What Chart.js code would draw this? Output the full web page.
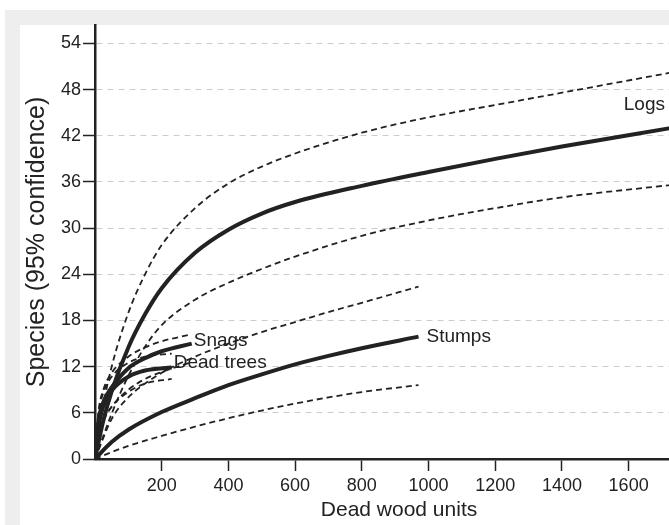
<!DOCTYPE html>
<html>
<head>
<meta charset="utf-8">
<script src="https://cdn.jsdelivr.net/npm/chart.js@4.4.1/dist/chart.umd.min.js"></script>
<style>
  html, body { margin: 0; padding: 0; background: #fff; overflow: hidden; }
  #wrap { width: 669px; height: 525px; overflow: hidden; position: relative; }
  #chart { position: absolute; left: 0; top: 0; }
</style>
</head>
<body>
<div id="wrap"><canvas id="chart" width="703" height="525"></canvas></div>
<script>
// rarefaction curves (x = dead wood units, y = species)
const logsX     = [0, 25, 50, 100, 150, 200, 300, 400, 500, 600, 800, 1000, 1200, 1400, 1725];
const logsMean  = [0, 5.0, 8.8, 14.5, 18.8, 22.2, 26.8, 29.8, 31.9, 33.4, 35.5, 37.3, 39.0, 40.6, 43.0];
const logsUpper = [0, 7.0, 12.0, 19.0, 24.0, 27.8, 32.6, 35.8, 38.0, 39.7, 42.4, 44.4, 46.0, 47.6, 50.2];
const logsLower = [0, 3.0, 5.9, 10.8, 14.6, 17.4, 20.7, 22.9, 24.7, 26.3, 29.0, 31.0, 32.6, 34.0, 35.6];

const stumpsX     = [0, 50, 100, 200, 300, 400, 500, 600, 700, 800, 970];
const stumpsMean  = [0, 2.2, 3.8, 6.1, 7.9, 9.6, 11.0, 12.3, 13.4, 14.4, 15.9];
const stumpsUpper = [0, 5.2, 8.0, 11.2, 13.3, 15.0, 16.5, 17.8, 19.1, 20.3, 22.4];
const stumpsLower = [0, 0.9, 1.7, 3.0, 4.2, 5.3, 6.3, 7.2, 8.0, 8.7, 9.6];

const snagsX     = [0, 10, 25, 50, 100, 150, 200, 290];
const snagsMean  = [0, 4.8, 7.4, 9.3, 11.8, 13.1, 14.0, 15.0];
const snagsUpper = [0, 6.0, 9.0, 11.2, 13.3, 14.5, 15.3, 16.2];
const snagsLower = [0, 3.0, 5.0, 6.8, 9.0, 10.4, 11.3, 12.6];

const deadX     = [0, 10, 25, 50, 100, 150, 230];
const deadMean  = [0, 4.2, 6.9, 8.9, 10.7, 11.5, 11.9];
const deadUpper = [0, 5.6, 8.6, 10.7, 12.5, 13.3, 13.7];
const deadLower = [0, 2.8, 4.9, 6.8, 8.7, 9.8, 10.4];

const yTickValues = [0, 6, 12, 18, 24, 30, 36, 42, 48, 54];
const xTickValues = [200, 400, 600, 800, 1000, 1200, 1400, 1600];

const FONT = "'Liberation Sans', Arial, sans-serif";
const INK = '#222';
// the canvas is a bit wider than the window: the plot runs on past the right edge
const VISIBLE_W = 669;

const curve = (xs, ys, dashed) => ({
    data: xs.map((x, i) => ({ x: x, y: ys[i] })),
    borderColor: INK,
    borderWidth: dashed ? 1.8 : 4,
    borderDash: dashed ? [6, 4] : [],
    pointRadius: 0,
    fill: false,
    cubicInterpolationMode: 'monotone'
});

// grey frame behind the white panel
const backgroundPlugin = {
    id: 'frame',
    beforeDraw(chart) {
        const ctx = chart.ctx;
        ctx.save();
        ctx.fillStyle = '#ffffff';
        ctx.fillRect(0, 0, chart.width, chart.height);
        ctx.fillStyle = '#eeeeee';
        ctx.fillRect(5, 10, chart.width - 5, chart.height - 10);
        ctx.fillStyle = '#ffffff';
        ctx.fillRect(20, 25, chart.width - 20, chart.height - 25);
        ctx.restore();
    }
};

// names written next to the end of each mean curve
const labelPlugin = {
    id: 'curveLabels',
    afterDatasetsDraw(chart) {
        const { ctx, scales: { x, y } } = chart;
        const items = [
            { text: 'Logs', xs: logsX, ys: logsMean, dx: -4, dy: -23, align: 'right' },
            { text: 'Stumps', xs: stumpsX, ys: stumpsMean, dx: 8, dy: 0, align: 'left' },
            { text: 'Snags', xs: snagsX, ys: snagsMean, dx: 2, dy: -3, align: 'left' },
            { text: 'Dead trees', xs: deadX, ys: deadMean, dx: 2, dy: -5, align: 'left' }
        ];
        ctx.save();
        ctx.font = '19px ' + FONT;
        ctx.fillStyle = INK;
        ctx.textBaseline = 'middle';
        items.forEach(it => {
            const last = it.xs.length - 1;
            const px = Math.min(x.getPixelForValue(it.xs[last]), VISIBLE_W);
            const py = y.getPixelForValue(it.ys[last]);
            ctx.textAlign = it.align;
            ctx.fillText(it.text, px + it.dx, py + it.dy);
        });
        ctx.restore();
    }
};

new Chart(document.getElementById('chart'), {
    type: 'line',
    data: {
        datasets: [
            curve(logsX, logsUpper, true),
            curve(logsX, logsLower, true),
            curve(stumpsX, stumpsUpper, true),
            curve(stumpsX, stumpsLower, true),
            curve(snagsX, snagsUpper, true),
            curve(snagsX, snagsLower, true),
            curve(deadX, deadUpper, true),
            curve(deadX, deadLower, true),
            curve(logsX, logsMean, false),
            curve(stumpsX, stumpsMean, false),
            curve(snagsX, snagsMean, false),
            curve(deadX, deadMean, false)
        ]
    },
    options: {
        responsive: false,
        animation: false,
        devicePixelRatio: 1,
        layout: { padding: { top: 25, left: 0, right: 0, bottom: 0 } },
        plugins: {
            legend: { display: false },
            tooltip: { enabled: false }
        },
        scales: {
            x: {
                type: 'linear',
                min: 0,
                max: 1823,
                afterBuildTicks: s => { s.ticks = xTickValues.map(v => ({ value: v })); },
                afterFit: s => { s.height = 66; },
                ticks: {
                    color: INK,
                    font: { family: FONT, size: 18 },
                    padding: 4,
                    maxRotation: 0,
                    callback: v => String(v)
                },
                grid: { drawOnChartArea: false, tickLength: 12, tickColor: INK, tickWidth: 1.5 },
                border: { color: INK, width: 2.5 },
                title: {
                    display: true,
                    text: 'Dead wood units',
                    color: INK,
                    font: { family: FONT, size: 21 },
                    padding: { top: 0, bottom: 2 }
                }
            },
            y: {
                min: 0,
                max: 56.4,
                afterBuildTicks: s => { s.ticks = yTickValues.map(v => ({ value: v })); },
                afterFit: s => { s.width = 95; },
                ticks: { color: INK, font: { family: FONT, size: 18 }, padding: 2 },
                grid: {
                    color: '#cccccc',
                    lineWidth: 1,
                    tickLength: 12,
                    tickColor: INK,
                    tickWidth: 1.5,
                    tickBorderDash: []
                },
                border: { color: INK, width: 2.5, dash: [6, 5] },
                title: {
                    display: true,
                    text: 'Species (95% confidence)',
                    color: INK,
                    font: { family: FONT, size: 25 },
                    padding: { top: 22, bottom: 0 }
                }
            }
        }
    },
    plugins: [backgroundPlugin, labelPlugin]
});
</script>
</body>
</html>
